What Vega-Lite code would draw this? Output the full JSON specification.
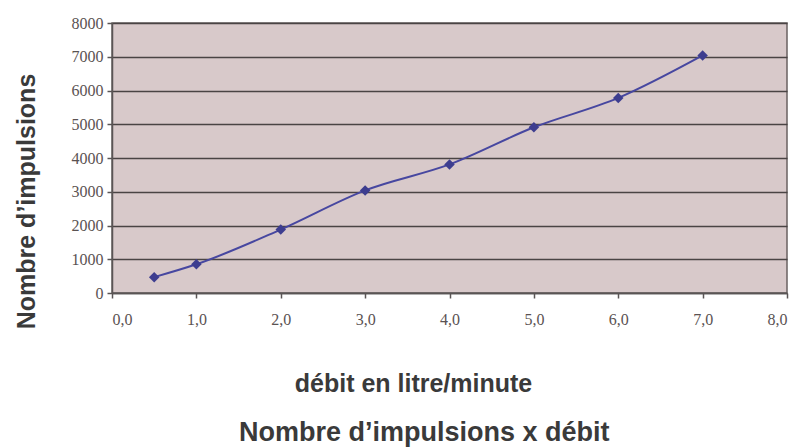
{
  "$schema": "https://vega.github.io/schema/vega-lite/v6.json",
  "autosize": "none",
  "width": 675,
  "height": 270,
  "padding": {"left": 112, "top": 23, "right": 14, "bottom": 155},
  "background": "#ffffff",
  "view": {"fill": "#d8c9ca", "stroke": "#6a6262", "strokeWidth": 1.5},
  "title": {
    "text": "Nombre d’impulsions x débit",
    "orient": "top",
    "anchor": "start",
    "offset": 0,
    "baseline": "alphabetic",
    "dy": 453,
    "dx": 225,
    "font": "Liberation Sans",
    "fontSize": 27,
    "fontWeight": "bold",
    "color": "#3a3a3a"
  },
  "data": {
    "values": [
      {"debit": 0.5, "impulsions": 470},
      {"debit": 1.0, "impulsions": 850},
      {"debit": 2.0, "impulsions": 1880},
      {"debit": 3.0, "impulsions": 3040},
      {"debit": 4.0, "impulsions": 3810},
      {"debit": 5.0, "impulsions": 4910},
      {"debit": 6.0, "impulsions": 5780},
      {"debit": 7.0, "impulsions": 7040}
    ]
  },
  "encoding": {
    "x": {
      "field": "debit",
      "type": "quantitative",
      "scale": {"domain": [0, 8], "nice": false, "zero": true},
      "axis": {
        "title": "débit en litre/minute",
        "values": [0, 1, 2, 3, 4, 5, 6, 7, 8],
        "labelExpr": "replace(format(datum.value, '.1f'), '.', ',')",
        "grid": false,
        "domainColor": "#5a5555",
        "domainWidth": 1.5,
        "tickColor": "#5a5555",
        "tickSize": 5,
        "tickWidth": 1.5,
        "labelFont": "Liberation Sans Narrow",
        "labelFontSize": 16,
        "labelColor": "#5a5252",
        "labelPadding": 13,
        "titleFont": "Liberation Sans",
        "titleFontSize": 25,
        "titleFontWeight": "bold",
        "titleColor": "#3a3a3a",
        "titleBaseline": "middle",
        "titleX": 301,
        "titleY": 90
      }
    },
    "y": {
      "field": "impulsions",
      "type": "quantitative",
      "scale": {"domain": [0, 8000], "nice": false},
      "axis": {
        "title": "Nombre d’impulsions",
        "values": [0, 1000, 2000, 3000, 4000, 5000, 6000, 7000, 8000],
        "format": "d",
        "grid": true,
        "gridColor": "#4a4444",
        "gridWidth": 1.5,
        "domainColor": "#5a5555",
        "domainWidth": 1.5,
        "tickColor": "#5a5555",
        "tickSize": 5,
        "tickWidth": 1.5,
        "labelFont": "Liberation Sans Narrow",
        "labelFontSize": 16,
        "labelColor": "#5a5252",
        "labelPadding": 4,
        "titleFont": "Liberation Sans",
        "titleFontSize": 25,
        "titleFontWeight": "bold",
        "titleColor": "#3a3a3a",
        "titleAngle": -90,
        "titleBaseline": "middle",
        "titleX": -86,
        "titleY": 178
      }
    }
  },
  "layer": [
    {
      "mark": {"type": "line", "interpolate": "monotone", "color": "#4747a0", "strokeWidth": 2}
    },
    {
      "mark": {"type": "point", "shape": "diamond", "filled": true, "opacity": 1, "color": "#3d3d8f", "size": 110}
    }
  ]
}
